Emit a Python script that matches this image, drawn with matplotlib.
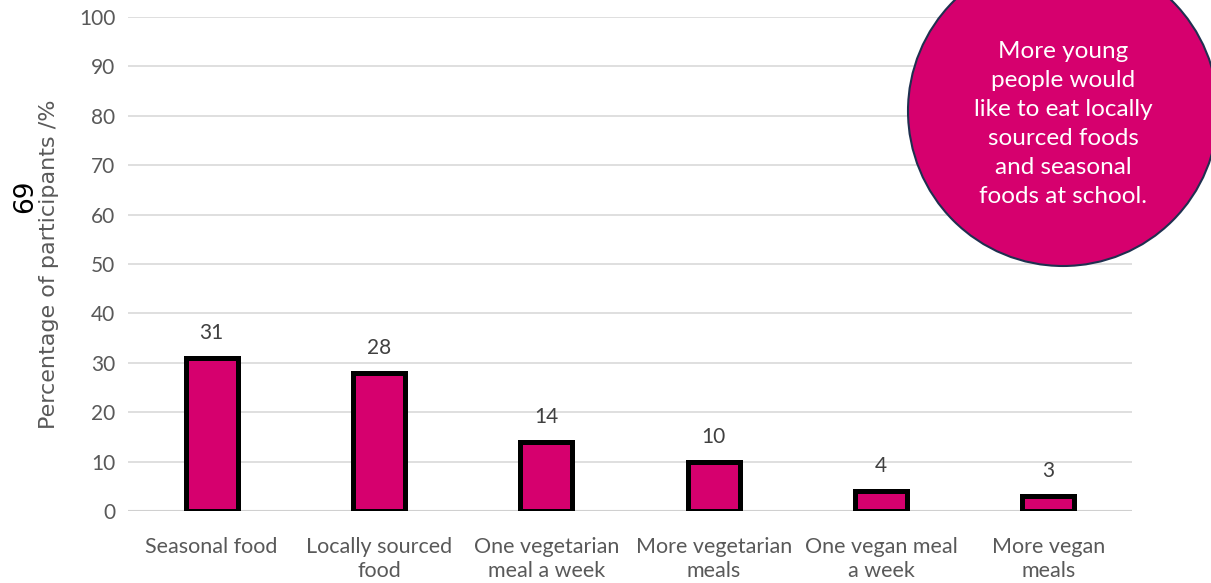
import matplotlib.pyplot as plt
from matplotlib.patches import Circle

# data
categories = ["Seasonal food", "Locally sourced\nfood", "One vegetarian\nmeal a week",
              "More vegetarian\nmeals", "One vegan meal\na week", "More vegan\nmeals"]
values = [31, 28, 14, 10, 4, 3]
yticks = list(range(0, 101, 10))
note = "More young\npeople would\nlike to eat locally\nsourced foods\nand seasonal\nfoods at school."

pink = "#d6006e"
grey_txt = "#595959"

plt.rcParams['font.family'] = ['Lato', 'DejaVu Sans']

fig = plt.figure(figsize=(12.11, 5.83), dpi=100)
ax = fig.add_axes([128 / 1211, 1 - 511 / 583, 1004 / 1211, 494 / 583])

x = list(range(len(categories)))
ax.bar(x, values, width=0.31, color=pink, edgecolor="black", linewidth=3.6, zorder=3)
for xi, v in zip(x, values):
    ax.text(xi, v + 3, str(v), ha="center", va="bottom", fontsize=15, color="#404040")

ax.set_xlim(-0.5, len(categories) - 0.5)
ax.set_ylim(0, 100)
ax.set_yticks(yticks)
ax.set_xticks(x)
ax.set_xticklabels(categories, fontsize=15.5, color=grey_txt, linespacing=1.25)
ax.tick_params(axis="y", labelsize=15, labelcolor=grey_txt, length=0, pad=9)
ax.tick_params(axis="x", length=0, pad=19)
ax.grid(axis="y", color="#d9d9d9", linewidth=1.2, zorder=0)
for s in ax.spines.values():
    s.set_visible(False)
ax.axhline(0, color="#d0d0d0", linewidth=1.5, zorder=2)

ax.set_ylabel("Percentage of participants /%", fontsize=16, color=grey_txt,
              family=["DejaVu Sans"])
ax.yaxis.set_label_coords(-0.069, 0.5)

fig.text(25 / 1211, 1 - 196 / 583, "69", rotation=90, fontsize=19, color="black",
         ha="center", va="center", family=["DejaVu Sans"])

circ = Circle((10.63, 4.72), 1.55, transform=fig.dpi_scale_trans, facecolor=pink,
              edgecolor="#1f3050", linewidth=1.5, zorder=5)
fig.patches.append(circ)
fig.text(1063 / 1211, 1 - 124 / 583, note, ha="center", va="center", fontsize=17.5,
         color="white", linespacing=1.47, zorder=6)

fig.savefig("out.png", dpi=100)
